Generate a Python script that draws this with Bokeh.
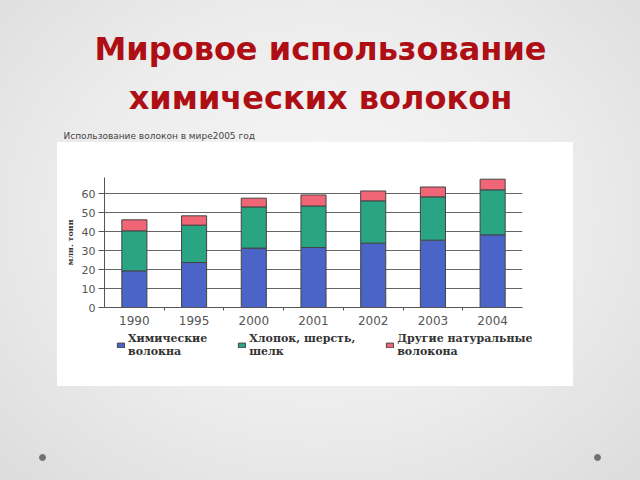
from bokeh.plotting import figure
from bokeh.models import ColumnDataSource, Range1d, FixedTicker, Legend, LegendItem, Spacer
from bokeh.layouts import column, row
from bokeh.core.properties import value
from bokeh.embed import file_html
from bokeh.resources import INLINE

# ---- data ----
YEARS = ["1990", "1995", "2000", "2001", "2002", "2003", "2004"]
CHEMICAL = [19.3, 23.7, 31.3, 31.6, 33.9, 35.5, 38.3]
COTTON_WOOL_SILK = [21.1, 19.7, 21.7, 21.9, 22.3, 22.8, 23.7]
OTHER_NATURAL = [5.8, 4.9, 4.6, 5.8, 5.2, 5.2, 5.6]
SERIES_LABELS = ["Химические\nволокна", "Хлопок, шерсть,\nшелк", "Другие натуральные\nволокона"]
Y_TICKS = [0, 10, 20, 30, 40, 50, 60]
Y_LABEL = "млн. тонн"
TITLE_LINES = ["Мировое использование", "химических волокон"]
CAPTION = "Использование волокон в мире2005 год"

COLORS = ["#4a64c8", "#2aa583", "#f06676"]
BAR_LINE = "#444444"
TITLE_COLOR = "#ad0f14"

W, H = 640, 480
BOX_L, BOX_R, BOX_T, BOX_B = 57, 573, 142, 386
CHART_H = 190
LEG_H = BOX_B - BOX_T - CHART_H

# ---- title area ----
title_fig = figure(width=W, height=BOX_T, x_range=Range1d(0, W), y_range=Range1d(BOX_T, 0),
                   x_axis_type=None, y_axis_type=None, toolbar_location=None,
                   output_backend="svg", min_border=0)
title_fig.grid.visible = False
title_fig.outline_line_color = None
title_fig.background_fill_color = None
title_fig.border_fill_color = None
title_fig.frame_align = False
title_fig.text(x=[320, 320], y=[48, 97], text=TITLE_LINES, text_align="center",
               text_baseline="middle", text_font=value("DejaVu Sans"),
               text_font_style="bold", text_font_size="32px", text_color=TITLE_COLOR)
title_fig.text(x=[63], y=[135], text=[CAPTION], text_align="left", text_baseline="middle",
               text_font=value("DejaVu Sans"), text_font_size="9px", text_color="#444444")

# ---- chart ----
n = len(YEARS)
xs = [i + 0.5 for i in range(n)]
source = ColumnDataSource(dict(x=xs, chem=CHEMICAL, cotton=COTTON_WOOL_SILK, other=OTHER_NATURAL))

p = figure(width=BOX_R - BOX_L, height=CHART_H, x_range=Range1d(0, n), y_range=Range1d(0, 68.5),
           toolbar_location=None, output_backend="svg",
           min_border_left=47, min_border_right=51, min_border_top=35, min_border_bottom=25)
p.background_fill_color = "white"
p.border_fill_color = "white"
p.outline_line_color = None
p.frame_align = False

renderers = p.vbar_stack(["chem", "cotton", "other"], x="x", width=0.42, source=source,
                         fill_color=COLORS, line_color=BAR_LINE, line_width=1)

p.xgrid.visible = False
p.ygrid.ticker = FixedTicker(ticks=Y_TICKS)
p.ygrid.grid_line_color = "#666666"
p.ygrid.grid_line_width = 1

ya = p.yaxis[0]
ya.ticker = FixedTicker(ticks=Y_TICKS)
ya.major_tick_out = 6
ya.major_tick_in = 0
ya.minor_tick_out = 0
ya.minor_tick_in = 0
ya.axis_line_color = "#555555"
ya.major_tick_line_color = "#555555"
ya.major_label_text_font = "DejaVu Sans"
ya.major_label_text_font_size = "11px"
ya.major_label_text_color = "#555555"
ya.major_label_standoff = 3
ya.axis_label = Y_LABEL
ya.axis_label_text_font = "DejaVu Serif"
ya.axis_label_text_font_style = "bold"
ya.axis_label_text_font_size = "8px"
ya.axis_label_text_color = "#333333"
ya.axis_label_standoff = 4

xa = p.xaxis[0]
xa.ticker = FixedTicker(ticks=xs, minor_ticks=list(range(1, n)))
xa.major_label_overrides = {x: y for x, y in zip(xs, YEARS)}
xa.major_tick_out = 0
xa.major_tick_in = 0
xa.minor_tick_out = 3
xa.minor_tick_in = 0
xa.axis_line_color = "#555555"
xa.minor_tick_line_color = "#555555"
xa.major_label_text_font = "DejaVu Sans"
xa.major_label_text_font_size = "12px"
xa.major_label_text_color = "#555555"
xa.major_label_standoff = 5

# ---- legend strip (inside the white box, below the chart) ----
leg_fig = figure(width=BOX_R - BOX_L, height=LEG_H, x_range=Range1d(0, 1), y_range=Range1d(0, 1),
                 x_axis_type=None, y_axis_type=None, toolbar_location=None,
                 output_backend="svg", min_border=0)
leg_fig.grid.visible = False
leg_fig.outline_line_color = None
leg_fig.background_fill_color = "white"
leg_fig.border_fill_color = "white"
leg_fig.frame_align = False
# proxy renderers with no drawable point; they only carry the legend swatches
NAN = float("nan")
leg_renderers = [leg_fig.vbar(x=[NAN], bottom=[NAN], top=[NAN], width=0.1, fill_color=c, line_color=BAR_LINE)
                 for c in COLORS]
legend = Legend(items=[LegendItem(label=lab, renderers=[r]) for lab, r in zip(SERIES_LABELS, leg_renderers)],
                orientation="horizontal", location=(59, LEG_H - 26), glyph_width=9, glyph_height=6,
                label_standoff=3, spacing=30, padding=0, margin=0,
                label_text_font="DejaVu Serif", label_text_font_style="bold",
                label_text_font_size="11px", label_text_color="#333333",
                border_line_color=None, background_fill_alpha=0)
leg_fig.add_layout(legend, "center")

# ---- bottom area ----
bottom = figure(width=W, height=H - BOX_B, x_range=Range1d(0, W), y_range=Range1d(H - BOX_B, 0),
                x_axis_type=None, y_axis_type=None, toolbar_location=None,
                output_backend="svg", min_border=0)
bottom.grid.visible = False
bottom.outline_line_color = None
bottom.background_fill_color = None
bottom.border_fill_color = None
bottom.frame_align = False
bottom.scatter(x=[42, 597], y=[71, 71], size=6, color="#707070")

root = column(title_fig,
              row(Spacer(width=BOX_L, height=BOX_B - BOX_T),
                  column(p, leg_fig, styles={"background": "white"}),
                  Spacer(width=W - BOX_R, height=BOX_B - BOX_T)),
              bottom, width=W, height=H,
              styles={"background": "radial-gradient(ellipse at 50% 45%, #f7f7f7 0%, #ececec 55%, #dcdcdc 100%)"})

open("out.html", "w").write(file_html(root, INLINE))
